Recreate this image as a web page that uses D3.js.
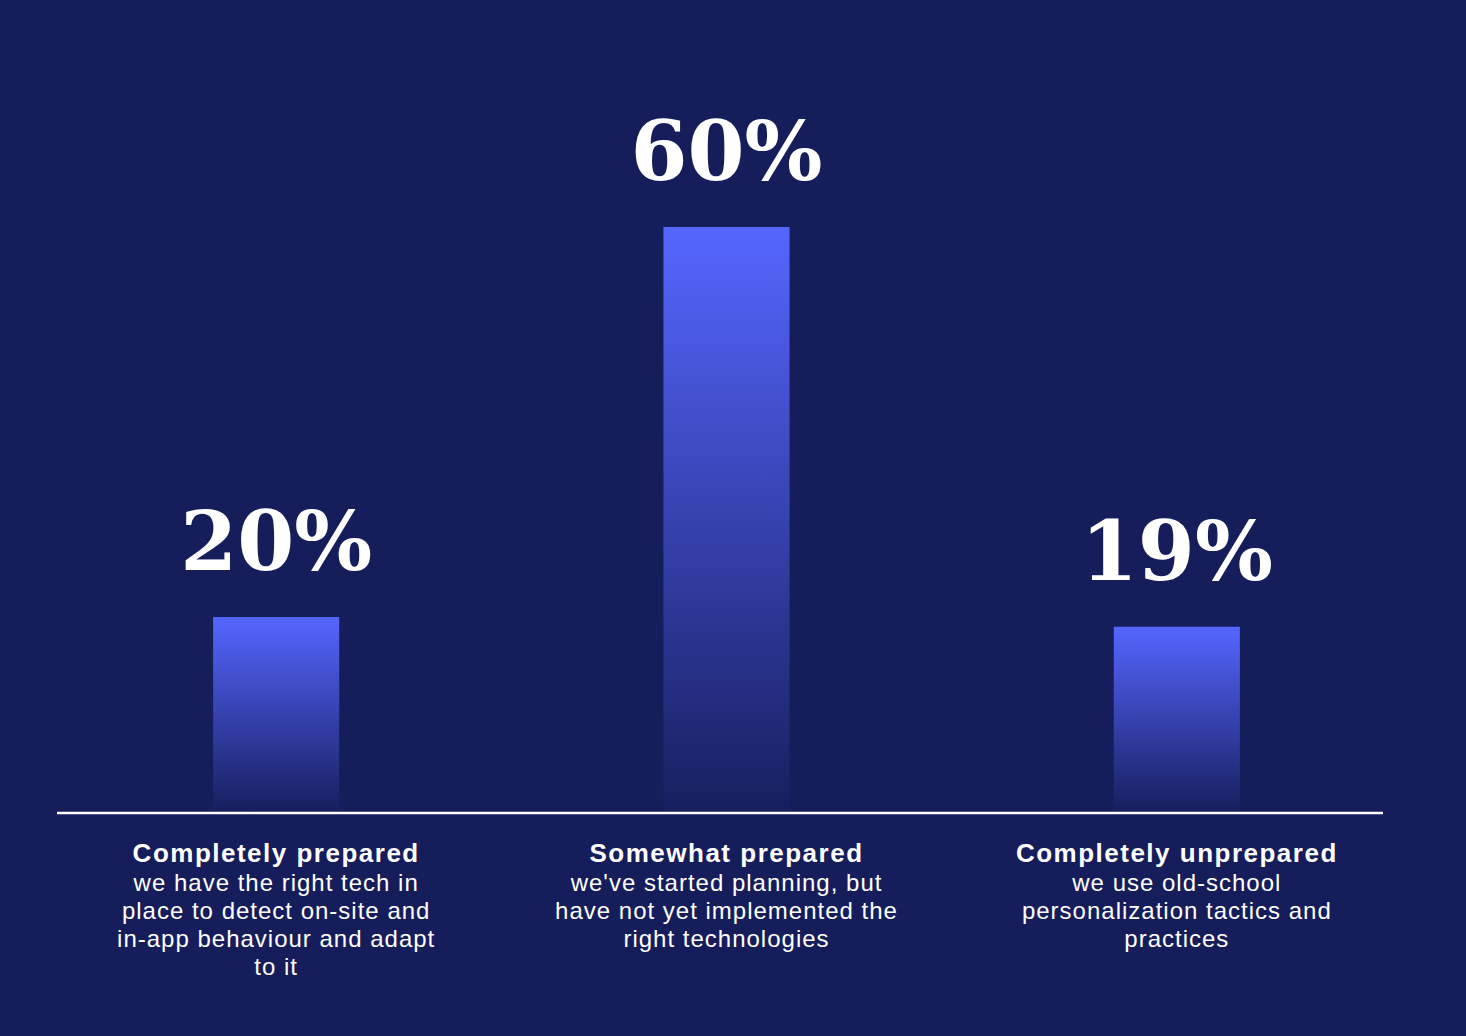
<!DOCTYPE html>
<html><head><meta charset="utf-8">
<script src="https://cdn.jsdelivr.net/npm/d3@7"></script>
<style>
html,body{margin:0;padding:0;background:#161d5b;}
svg{display:block;}
</style></head>
<body>
<svg id="chart" width="1466" height="1036"></svg>
<script>
const categories = ["Completely prepared", "Somewhat prepared", "Completely unprepared"];
const values = [20, 60, 19];
const valueLabels = ["20%", "60%", "19%"];
const descriptions = [
  ["we have the right tech in", "place to detect on-site and", "in-app behaviour and adapt", "to it"],
  ["we've started planning, but", "have not yet implemented the", "right technologies"],
  ["we use old-school", "personalization tactics and", "practices"]
];

const W = 1466, H = 1036;
const svg = d3.select("#chart");
svg.append("rect").attr("width", W).attr("height", H).attr("fill", "#161d5b");

const baseY = 812;
const x = d3.scaleBand().domain(categories).range([51, 1402]).paddingInner(0.72).paddingOuter(0.36);
const y = d3.scaleLinear().domain([0, 60]).range([baseY, 227]);

const defs = svg.append("defs");
const grad = defs.append("linearGradient").attr("id", "barGrad")
  .attr("x1", 0).attr("y1", 0).attr("x2", 0).attr("y2", 1);
grad.append("stop").attr("offset", "0%").attr("stop-color", "#5566ff");
grad.append("stop").attr("offset", "100%").attr("stop-color", "#5566ff").attr("stop-opacity", 0.02);

svg.selectAll("rect.bar").data(values).join("rect")
  .attr("class", "bar")
  .attr("x", (d, i) => x(categories[i]))
  .attr("width", x.bandwidth())
  .attr("y", d => y(d))
  .attr("height", d => baseY - y(d))
  .attr("fill", "url(#barGrad)");

svg.selectAll("text.val").data(values).join("text")
  .attr("class", "val")
  .attr("x", (d, i) => x(categories[i]) + x.bandwidth() / 2)
  .attr("y", d => y(d) - 47)
  .attr("text-anchor", "middle")
  .attr("font-family", "'DejaVu Serif', serif")
  .attr("font-weight", "bold")
  .attr("font-size", 82)
  .attr("fill", "#ffffff")
  .text((d, i) => valueLabels[i]);

svg.append("line")
  .attr("x1", 57).attr("x2", 1383)
  .attr("y1", baseY + 1).attr("y2", baseY + 1)
  .attr("stroke", "#ffffff").attr("stroke-width", 2.5);

const labelG = svg.selectAll("g.lab").data(categories).join("g")
  .attr("class", "lab")
  .attr("transform", d => `translate(${x(d) + x.bandwidth() / 2},0)`);

labelG.append("text")
  .attr("y", 862)
  .attr("text-anchor", "middle")
  .attr("font-family", "'Liberation Sans', Arial, sans-serif")
  .attr("font-weight", "bold")
  .attr("font-size", 26)
  .attr("letter-spacing", 1.5)
  .attr("fill", "#ffffff")
  .text(d => d);

labelG.each(function(d, i) {
  d3.select(this).selectAll("text.desc").data(descriptions[i]).join("text")
    .attr("class", "desc")
    .attr("y", (t, j) => 891 + j * 28)
    .attr("text-anchor", "middle")
    .attr("font-family", "'Liberation Sans', Arial, sans-serif")
    .attr("font-size", 24)
    .attr("letter-spacing", 1)
    .attr("fill", "#ffffff")
    .text(t => t);
});
</script>
</body></html>
